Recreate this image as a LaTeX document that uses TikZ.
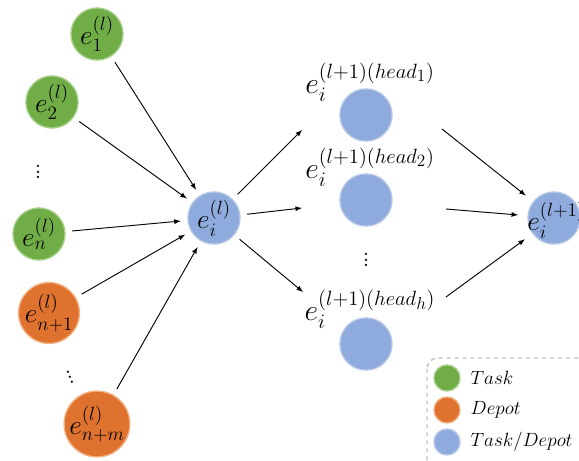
\documentclass[tikz,border=0pt]{standalone}
\usepackage{amsmath}
\usepackage{tikz}
\usetikzlibrary{positioning,arrows}
\definecolor{taskgreen}{HTML}{70AD47}
\definecolor{taskrim}{HTML}{A9D18E}
\definecolor{depotorange}{HTML}{DF722E}
\definecolor{depotrim}{HTML}{F4B183}
\definecolor{bothblue}{HTML}{8FAADC}
\definecolor{bothrim}{HTML}{B4C7E7}

\begin{document}
\begin{tikzpicture}[
x=0.02646cm, y=-0.02646cm,
init/.style={
	circle,
	minimum size=1.38cm,
	inner sep=0pt,
	line width=1pt,
	font=\huge
},
task/.style={init, fill=taskgreen, draw=taskrim},
depot/.style={init, fill=depotorange, draw=depotrim},
both/.style={init, fill=bothblue, draw=bothrim},
mini/.style={minimum size=0.69cm},
arr/.style={-latex, line width=0.7pt, shorten <=5pt, shorten >=5pt},
lbl/.style={font=\huge, inner sep=0pt}
]

\clip (0,0) rectangle (579,461);

\node[task] (e1) at (97,34) {$e_1^{(l)}$};
\node[task] (e2) at (52,102) {$e_2^{(l)}$};
\node[lbl] (d1) at (38,168) {$\vdots$};
\node[task] (en) at (39,234) {$e_n^{(l)}$};
\node[depot] (en1) at (49,313) {$e_{n+1}^{(l)}$};
\node[lbl, rotate=20] (d2) at (69,374) {$\vdots$};
\node[depot] (enm) at (97,424) {$e_{n+m}^{(l)}$};

\node[both] (ei) at (214,218) {$e_i^{(l)}$};

\node[both] (h1) at (366,115) {};
\node[lbl, scale=1.08] (t1) at (370,82) {$e_i^{(l+1)(head_1)}$};
\node[both] (h2) at (366,200) {};
\node[lbl, scale=1.08] (t2) at (370,167) {$e_i^{(l+1)(head_2)}$};
\node[lbl] (d3) at (366,256) {$\vdots$};
\node[both] (hh) at (366,344) {};
\node[lbl, scale=1.08] (th) at (370,309) {$e_i^{(l+1)(head_h)}$};

\node[both] (out) at (554,218) {};
\node[lbl, anchor=west] (tout) at (527,220) {$e_i^{(l+1)}$};

\coordinate (a1) at (302,130);
\coordinate (a2) at (302,208);
\coordinate (ah) at (303,292);
\coordinate (b1) at (442,129);
\coordinate (b2) at (446,209);
\coordinate (bh) at (446,297);

\draw[arr] (e1) -- (ei);
\draw[arr] (e2) -- (ei);
\draw[arr] (en) -- (ei);
\draw[arr] (en1) -- (ei);
\draw[arr] (enm) -- (ei);

\draw[arr, shorten >=0pt] (ei) -- (a1);
\draw[arr, shorten >=0pt] (ei) -- (a2);
\draw[arr, shorten >=0pt] (ei) -- (ah);

\draw[arr, shorten <=0pt, shorten >=7pt] (b1) -- (out);
\draw[arr, shorten <=0pt, shorten >=7pt] (b2) -- (out);
\draw[arr, shorten <=0pt, shorten >=7pt] (bh) -- (out);

\draw[dashed, rounded corners=8pt, draw=black!25, line width=1pt]
	(427,358) rectangle (620,480);
\node[task, mini] (k1) at (447,378) {};
\node[depot, mini] (k2) at (447,410) {};
\node[both, mini] (k3) at (447,442) {};
\node[anchor=west, font=\Large] (l1) at (466,378) {$Task$};
\node[anchor=west, font=\Large] (l2) at (466,410) {$Depot$};
\node[anchor=west, font=\Large] (l3) at (466,442) {$Task/Depot$};

\end{tikzpicture}
\end{document}
